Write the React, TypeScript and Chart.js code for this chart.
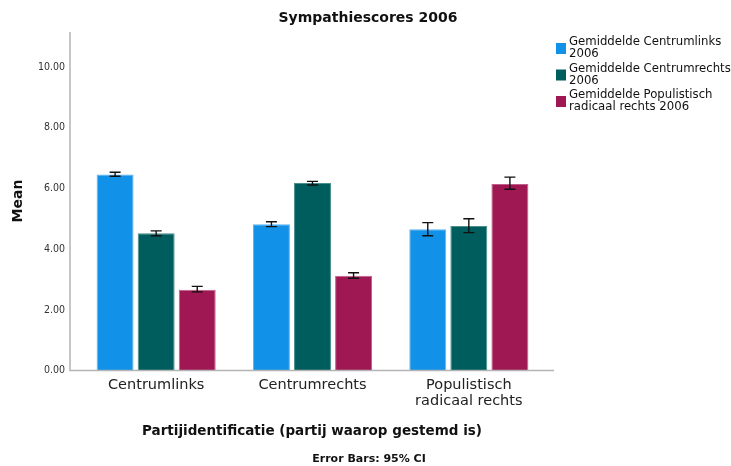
import React, { useEffect, useRef } from "react";
import { Chart, registerables } from "chart.js";

Chart.register(...registerables);

const chartTitle = "Sympathiescores 2006";
const xAxisTitle = "Partijidentificatie (partij waarop gestemd is)";
const yAxisTitle = "Mean";
const footnote = "Error Bars: 95% CI";

const categories: (string | string[])[] = [
  "Centrumlinks",
  "Centrumrechts",
  ["Populistisch", "radicaal rechts"],
];

const seriesLabels: string[][] = [
  ["Gemiddelde Centrumlinks", "2006"],
  ["Gemiddelde Centrumrechts", "2006"],
  ["Gemiddelde Populistisch", "radicaal rechts 2006"],
];

const centrumlinksMeans = [6.46, 4.82, 4.65];
const centrumrechtsMeans = [4.52, 6.18, 4.76];
const populistischMeans = [2.66, 3.12, 6.14];

const centrumlinksCI = [
  [6.4, 6.53],
  [4.74, 4.9],
  [4.44, 4.87],
];
const centrumrechtsCI = [
  [4.44, 4.6],
  [6.11, 6.23],
  [4.54, 5.0],
];
const populistischCI = [
  [2.59, 2.77],
  [3.04, 3.22],
  [5.97, 6.37],
];

const yTickValues = [0, 2, 4, 6, 8, 10];
const yMax = 11.15;

const colors = ["#1192e8", "#005d5d", "#9f1853"];
const borderColors = ["#5cb3ee", "#4a8f8f", "#c06088"];

const FONT = "'DejaVu Sans', sans-serif";
const FONT_C = "'DejaVu Sans Condensed', 'DejaVu Sans', sans-serif";

export default function App() {
  const ref = useRef<HTMLCanvasElement | null>(null);

  useEffect(() => {
    document.body.style.margin = "0";
    const canvas = ref.current;
    if (!canvas) return;
    const cis = [centrumlinksCI, centrumrechtsCI, populistischCI];

    const decor = {
      id: "decor",
      afterDatasetsDraw(chart: any) {
        const ctx = chart.ctx as CanvasRenderingContext2D;
        const y = chart.scales.y;
        const area = chart.chartArea;
        ctx.save();
        // error bars
        ctx.strokeStyle = "#111";
        ctx.lineWidth = 1.4;
        chart.data.datasets.forEach((ds: any, di: number) => {
          const meta = chart.getDatasetMeta(di);
          meta.data.forEach((bar: any, i: number) => {
            const [lo, hi] = cis[di][i];
            const x = bar.x;
            const yl = y.getPixelForValue(lo);
            const yh = y.getPixelForValue(hi);
            ctx.beginPath();
            ctx.moveTo(x, yl);
            ctx.lineTo(x, yh);
            ctx.moveTo(x - 5.5, yl);
            ctx.lineTo(x + 5.5, yl);
            ctx.moveTo(x - 5.5, yh);
            ctx.lineTo(x + 5.5, yh);
            ctx.stroke();
          });
        });
        // axes lines
        ctx.strokeStyle = "#b4b4b4";
        ctx.lineWidth = 1.5;
        ctx.beginPath();
        ctx.moveTo(area.left - 8, area.top);
        ctx.lineTo(area.left - 8, area.bottom);
        ctx.lineTo(area.right + 7, area.bottom);
        ctx.stroke();
        ctx.restore();
      },
      afterDraw(chart: any) {
        const ctx = chart.ctx as CanvasRenderingContext2D;
        ctx.save();
        ctx.fillStyle = "#111";
        ctx.textBaseline = "middle";
        // title
        ctx.textAlign = "center";
        ctx.font = `bold 14px ${FONT}`;
        ctx.fillText(chartTitle, 368, 18);
        // x axis title
        ctx.font = `bold 13.5px ${FONT}`;
        ctx.fillText(xAxisTitle, 312, 431);
        // footnote
        ctx.font = `bold 11px ${FONT}`;
        ctx.fillText(footnote, 369, 459);
        // y axis title
        ctx.save();
        ctx.translate(18, 201);
        ctx.rotate(-Math.PI / 2);
        ctx.font = `bold 14px ${FONT}`;
        ctx.fillText(yAxisTitle, 0, 0);
        ctx.restore();
        // legend
        ctx.textAlign = "left";
        ctx.font = `13px ${FONT_C}`;
        const rowTops = [42, 68.5, 95];
        seriesLabels.forEach((lines, i) => {
          const top = rowTops[i];
          ctx.fillStyle = colors[i];
          ctx.fillRect(556, top + 1, 10, 11);
          ctx.fillStyle = "#111";
          lines.forEach((t, li) => {
            ctx.fillText(t, 569, top + li * 12);
          });
        });
        ctx.restore();
      },
    };

    const means = [centrumlinksMeans, centrumrechtsMeans, populistischMeans];
    const chart = new Chart(canvas, {
      type: "bar",
      data: {
        labels: categories as any,
        datasets: means.map((m, i) => ({
          label: seriesLabels[i].join(" "),
          data: m,
          backgroundColor: colors[i],
          borderColor: borderColors[i],
          borderWidth: 1,
          categoryPercentage: 0.788,
          barPercentage: 0.9,
        })),
      },
      options: {
        responsive: false,
        animation: false,
        devicePixelRatio: 1,
        layout: { padding: { left: 0, right: 184, top: 32, bottom: 50.5 } },
        plugins: {
          legend: { display: false },
          title: { display: false },
          tooltip: { enabled: false },
        },
        scales: {
          x: {
            grid: { display: false, drawTicks: false },
            border: { display: false },
            ticks: {
              padding: 7,
              color: "#222",
              font: { family: FONT, size: 14.5, lineHeight: 1.1 },
              maxRotation: 0,
              autoSkip: false,
            },
            afterFit: (s: any) => {
              s.height = 45;
            },
          },
          y: {
            min: 0,
            max: yMax,
            grid: { display: false, drawTicks: false },
            border: { display: false },
            afterBuildTicks: (s: any) => {
              s.ticks = yTickValues.map((v) => ({ value: v }));
            },
            ticks: {
              padding: 13,
              color: "#333",
              font: { family: FONT_C, size: 10.5 },
              callback: (v: any) => Number(v).toFixed(2),
            },
            afterFit: (s: any) => {
              s.width = 78;
            },
          },
        },
      },
      plugins: [decor],
    });
    return () => chart.destroy();
  }, []);

  return (
    <div style={{ position: "fixed", left: 0, top: 0, width: 731, height: 466, background: "#fff" }}>
      <canvas ref={ref} width={731} height={466} style={{ width: 731, height: 466 }} />
    </div>
  );
}
